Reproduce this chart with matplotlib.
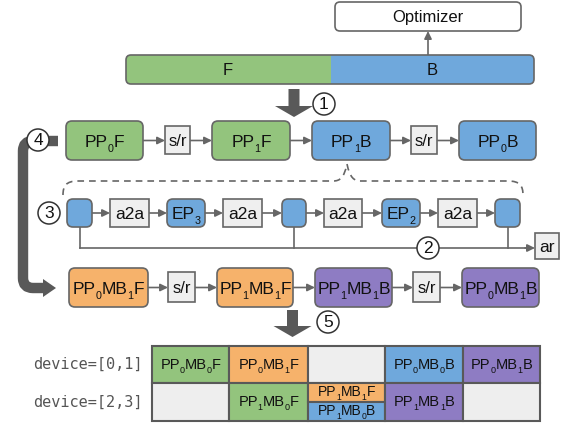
import re
import matplotlib
matplotlib.use("Agg")
import matplotlib.pyplot as plt
from matplotlib.patches import FancyBboxPatch, Rectangle, Circle, Polygon, PathPatch
from matplotlib.path import Path

plt.rcParams['font.family'] = ['Liberation Sans', 'DejaVu Sans']

# ---------------- data (labels) ----------------
top_bar_labels = ["F", "B"]
optimizer_label = "Optimizer"
row1_labels = ["PP_0F", "s/r", "PP_1F", "PP_1B", "s/r", "PP_0B"]
row1_kinds = ["F", "c", "F", "B", "c", "B"]
row2_labels = ["", "a2a", "EP_3", "a2a", "", "a2a", "EP_2", "a2a", ""]
row2_kinds = ["B", "c", "B", "c", "B", "c", "B", "c", "B"]
ar_label = "ar"
row3_labels = ["PP_0MB_1F", "s/r", "PP_1MB_1F", "PP_1MB_1B", "s/r", "PP_0MB_1B"]
row3_kinds = ["MF", "c", "MF", "MB", "c", "MB"]
step_numbers = ["1", "2", "3", "4", "5"]
device_labels = ["device=[0,1]", "device=[2,3]"]
table_row0 = [("PP_0MB_0F", "F"), ("PP_0MB_1F", "MF"), ("", "e"), ("PP_0MB_0B", "B"), ("PP_0MB_1B", "MB")]
table_row1 = [("", "e"), ("PP_1MB_0F", "F"), [("PP_1MB_1F", "MF"), ("PP_1MB_0B", "B")], ("PP_1MB_1B", "MB"), ("", "e")]

# ---------------- styles ----------------
COL = {"F": "#93c47d", "B": "#6fa8dc", "MF": "#f6b26b", "MB": "#8e7cc3",
       "c": "#efefef", "e": "#eeeeee"}
EDGE = "#666666"
DARK = "#595959"

fig = plt.figure(figsize=(5.65, 4.23), dpi=100)
ax = fig.add_axes([0, 0, 1, 1])
ax.set_xlim(0, 565)
ax.set_ylim(423, 0)
ax.axis('off')
renderer = fig.canvas.get_renderer()


def rich(xc, yc, label, fs, color='#111111', z=4):
    """Draw label centred at (xc, yc) with '_d' parts as lowered subscripts."""
    parts = [p for p in re.split(r'(_\d)', label) if p]
    px = fs * 100 / 72.0
    base = yc + 0.716 * px / 2
    objs = []
    total = 0
    for p in parts:
        if p.startswith('_'):
            t = ax.text(0, base + 0.28 * px, p[1:], fontsize=fs * 0.62, ha='left',
                        va='baseline', color=color, zorder=z)
        else:
            t = ax.text(0, base, p, fontsize=fs, ha='left', va='baseline', color=color, zorder=z)
        w = t.get_window_extent(renderer).width
        objs.append((t, w))
        total += w
    x = xc - total / 2
    for t, w in objs:
        t.set_x(x)
        x += w


def box(x0, x1, y0, y1, kind, label, fs=12, rounded=True, lw=1.2):
    if rounded:
        p = FancyBboxPatch((x0, y0), x1 - x0, y1 - y0,
                           boxstyle="round,pad=0,rounding_size=6",
                           fc=COL[kind], ec=EDGE, lw=lw, zorder=3)
    else:
        p = Rectangle((x0, y0), x1 - x0, y1 - y0, fc=COL[kind], ec=EDGE, lw=lw, zorder=3)
    ax.add_patch(p)
    if label:
        rich((x0 + x1) / 2, (y0 + y1) / 2, label, fs)


def arrow(x0, y0, x1, y1):
    ax.annotate("", xy=(x1, y1), xytext=(x0, y0),
                arrowprops=dict(arrowstyle="-|>,head_length=0.45,head_width=0.22",
                                color=EDGE, lw=1.2, shrinkA=0, shrinkB=0), zorder=2)


def circ(x, y, t):
    ax.add_patch(Circle((x, y), 11, fc='white', ec='#333333', lw=1.1, zorder=6))
    ax.text(x, y + 0.5, t, ha='center', va='center', fontsize=12.5, color='#111111', zorder=7)


def big_down(xc, ytop, ybot):
    hl = 11
    pts = [(xc - 5.5, ytop), (xc + 5.5, ytop), (xc + 5.5, ybot - hl), (xc + 19, ybot - hl),
           (xc, ybot), (xc - 19, ybot - hl), (xc - 5.5, ybot - hl)]
    ax.add_patch(Polygon(pts, closed=True, fc=DARK, ec='none', zorder=3))


# ---------------- optimizer & top bar ----------------
ax.add_patch(FancyBboxPatch((335, 2), 186, 29, boxstyle="round,pad=0,rounding_size=5",
                            fc='white', ec=EDGE, lw=1.2, zorder=3))
rich(428, 16.5, optimizer_label, 12)
arrow(428, 55, 428, 31)

outline = FancyBboxPatch((126, 55), 408, 29, boxstyle="round,pad=0,rounding_size=5",
                         fc=COL["F"], ec='none', zorder=2)
ax.add_patch(outline)
blue = Rectangle((331, 55), 203, 29, fc=COL["B"], ec='none', zorder=2.5)
ax.add_patch(blue)
blue.set_clip_path(outline)
ax.add_patch(FancyBboxPatch((126, 55), 408, 29, boxstyle="round,pad=0,rounding_size=5",
                            fc='none', ec=EDGE, lw=1.2, zorder=3))
rich(228, 69.5, top_bar_labels[0], 12)
rich(432, 69.5, top_bar_labels[1], 12)

big_down(294, 89, 117)
circ(324, 104, step_numbers[0])

# ---------------- row 1 ----------------
r1x = [(66, 143), (165, 190), (212, 290), (312, 390), (411, 437), (459, 536)]
for (x0, x1), lab, k in zip(r1x, row1_labels, row1_kinds):
    if k == "c":
        box(x0, x1, 126, 154, k, lab, fs=12, rounded=False)
    else:
        box(x0, x1, 121, 160, k, lab, fs=12.5)
for i in range(len(r1x) - 1):
    arrow(r1x[i][1], 140.5, r1x[i + 1][0], 140.5)

# ---------------- dashed brace ----------------
verts = [(63, 195), (63, 186), (66, 181), (78, 181), (333, 181),
         (340, 181), (344, 178), (347, 164),
         (350, 178), (354, 181), (361, 181), (508, 181),
         (520, 181), (523, 186), (523, 195)]
codes = [Path.MOVETO, Path.CURVE4, Path.CURVE4, Path.CURVE4, Path.LINETO,
         Path.CURVE4, Path.CURVE4, Path.CURVE4,
         Path.CURVE4, Path.CURVE4, Path.CURVE4, Path.LINETO,
         Path.CURVE4, Path.CURVE4, Path.CURVE4]
ax.add_patch(PathPatch(Path(verts, codes), fc='none', ec=EDGE, lw=1.2,
                       ls=(0, (4, 3)), zorder=2))

# ---------------- row 2 ----------------
r2x = [(67, 92), (110, 149), (167, 205), (223, 262), (282, 306),
       (324, 362), (382, 420), (438, 477), (495, 520)]
for (x0, x1), lab, k in zip(r2x, row2_labels, row2_kinds):
    box(x0, x1, 199, 227, k, lab, fs=12.5, rounded=(k != "c"))
for i in range(len(r2x) - 1):
    arrow(r2x[i][1], 213, r2x[i + 1][0], 213)
circ(49, 213, step_numbers[2])

yl = 248
for i in (0, 4, 8):
    xc = (r2x[i][0] + r2x[i][1]) / 2
    ax.plot([xc, xc], [227, yl], color=EDGE, lw=1.2, zorder=2)
ax.plot([(r2x[0][0] + r2x[0][1]) / 2, 530], [yl, yl], color=EDGE, lw=1.2, zorder=2)
arrow(525, yl, 535, yl)
box(535, 559, 233, 259, "c", ar_label, fs=12.5, rounded=False)
circ(428, yl, step_numbers[1])

# ---------------- big curved arrow (4) ----------------
vp = [(58, 141), (33, 141), (23, 141), (23, 151), (23, 278), (23, 288), (33, 288), (44, 288)]
vc = [Path.MOVETO, Path.LINETO, Path.CURVE3, Path.CURVE3, Path.LINETO, Path.CURVE3, Path.CURVE3, Path.LINETO]
ax.add_patch(PathPatch(Path(vp, vc), fc='none', ec=DARK, lw=7.5, capstyle='butt',
                       joinstyle='round', zorder=3))
ax.add_patch(Polygon([(43, 279), (56, 288), (43, 297)], closed=True, fc=DARK, ec='none', zorder=3))
circ(38, 140, step_numbers[3])

# ---------------- row 3 ----------------
r3x = [(69, 148), (168, 195), (217, 293), (315, 392), (413, 440), (462, 539)]
for (x0, x1), lab, k in zip(r3x, row3_labels, row3_kinds):
    if k == "c":
        box(x0, x1, 272, 302, k, lab, fs=12, rounded=False)
    else:
        box(x0, x1, 268, 307, k, lab, fs=12.5)
for i in range(len(r3x) - 1):
    arrow(r3x[i][1], 287.5, r3x[i + 1][0], 287.5)

big_down(292.5, 310, 337)
circ(328, 322, step_numbers[4])

# ---------------- table ----------------
cx = [152, 229, 308, 385, 463, 540]
ry = [346, 383, 421]
for r, row in enumerate([table_row0, table_row1]):
    for c, cell in enumerate(row):
        x0, x1 = cx[c], cx[c + 1]
        y0, y1 = ry[r], ry[r + 1]
        if isinstance(cell, list):
            ym = (y0 + y1) / 2
            for (lab, k), (a, b) in zip(cell, [(y0, ym), (ym, y1)]):
                ax.add_patch(Rectangle((x0, a), x1 - x0, b - a, fc=COL[k], ec=DARK, lw=1.5, zorder=3))
                rich((x0 + x1) / 2, (a + b) / 2 - 1, lab, 10)
        else:
            lab, k = cell
            ax.add_patch(Rectangle((x0, y0), x1 - x0, y1 - y0, fc=COL[k], ec=DARK, lw=1.5, zorder=3))
            if lab:
                rich((x0 + x1) / 2, (y0 + y1) / 2 - 1, lab, 10.5)

for lab, y in zip(device_labels, [(ry[0] + ry[1]) / 2, (ry[1] + ry[2]) / 2]):
    ax.text(143, y, lab, ha='right', va='center', fontsize=11, color='#555555',
            family='DejaVu Sans Mono', zorder=4)

fig.savefig("out.png", dpi=100)
